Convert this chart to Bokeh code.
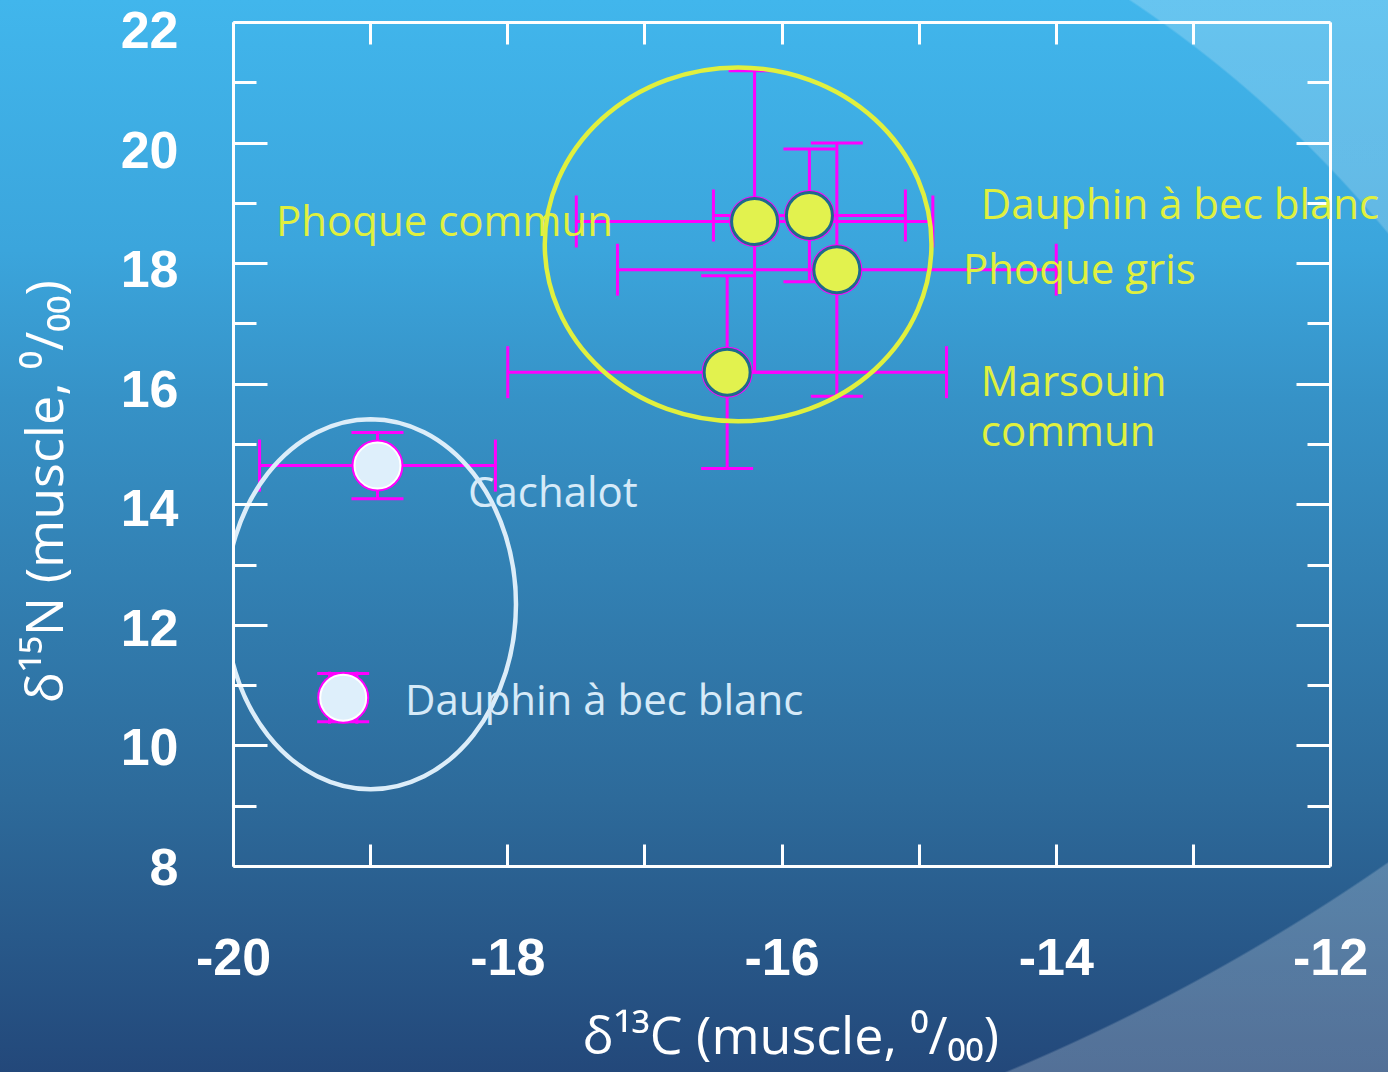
from bokeh.plotting import figure
from bokeh.models import (ColumnDataSource, Whisker, TeeHead, LinearAxis,
                          FixedTicker, Range1d, PrintfTickFormatter, LabelSet)
from bokeh.embed import file_html
from bokeh.resources import INLINE
from bokeh.core.properties import value

# --- coastal species (yellow group) ---
names_coast = ["Phoque commun", "Dauphin à bec blanc", "Phoque gris", "Marsouin\ncommun"]
d13c_coast = [-16.2, -15.8, -15.6, -16.4]
d13c_sd_coast = [1.3, 0.7, 1.6, 1.6]
d15n_coast = [18.7, 18.8, 17.9, 16.2]
d15n_sd_coast = [2.5, 1.1, 2.1, 1.6]
# label anchor points for the coastal names
lab_x_coast = [-19.69, -14.55, -14.68, -14.55]
lab_y_coast = [18.73, 19.01, 17.94, 15.67]

# --- oceanic species (pale group) ---
names_ocean = ["Cachalot", "Dauphin à bec blanc"]
d13c_ocean = [-18.95, -19.2]
d13c_sd_ocean = [0.86, 0.1]
d15n_ocean = [14.65, 10.8]
d15n_sd_ocean = [0.55, 0.4]
lab_x_ocean = [-18.29, -18.75]
lab_y_ocean = [14.24, 10.79]

# group envelopes (centre, full width, full height)
env_x = [-16.32, -19.0]
env_y = [18.32, 12.35]
env_w = [2.82, 2.12]
env_h = [5.87, 6.14]

x_lim = (-20, -12)
y_lim = (8, 22)
x_ticks = [-20, -18, -16, -14, -12]
x_minor = [-19, -17, -15, -13]
y_ticks = [8, 10, 12, 14, 16, 18, 20, 22]
y_minor = [9, 11, 13, 15, 17, 19, 21]

YELLOW = "#e0f03e"
PALE = "#dcedf9"
MAGENTA = "#ff00ff"
WHITE = "#ffffff"
NBSP = "\u00a0"

W, H = 1388, 1072
LEFT, RIGHT_BOX, TOP, BOTTOM = 233, 58, 22, 206


def err_source(xs, xsd, ys, ysd):
    return ColumnDataSource(dict(
        x=xs, y=ys,
        xlo=[a - b for a, b in zip(xs, xsd)], xhi=[a + b for a, b in zip(xs, xsd)],
        ylo=[a - b for a, b in zip(ys, ysd)], yhi=[a + b for a, b in zip(ys, ysd)],
    ))


src_coast = err_source(d13c_coast, d13c_sd_coast, d15n_coast, d15n_sd_coast)
src_ocean = err_source(d13c_ocean, d13c_sd_ocean, d15n_ocean, d15n_sd_ocean)
lab_coast = ColumnDataSource(dict(x=lab_x_coast, y=lab_y_coast, name=names_coast))
lab_ocean = ColumnDataSource(dict(x=lab_x_ocean, y=lab_y_ocean, name=names_ocean))

# the drawing area runs to the right edge so that long names are not cut;
# the boxed axes stop at x_lim
box_w = W - LEFT - RIGHT_BOX
x_end = x_lim[1] + RIGHT_BOX * (x_lim[1] - x_lim[0]) / box_w

p = figure(width=W, height=H,
           x_range=Range1d(x_lim[0], x_end), y_range=Range1d(*y_lim),
           output_backend="svg", toolbar_location=None,
           min_border_left=LEFT, min_border_right=0,
           min_border_top=TOP, min_border_bottom=BOTTOM)

# the upper tick numbers on the left sit a little below their ticks
p.extra_y_ranges = {"ylab": Range1d(y_lim[0], y_lim[1] + 0.133)}

p.background_fill_color = None
p.border_fill_color = None
p.outline_line_color = None
p.xgrid.visible = False
p.ygrid.visible = False

# slide-style backdrop: vertical blue gradient plus two pale swooshes
p.styles = {
    "background": (
        "radial-gradient(circle 1196px at 466px 995px, rgba(255,255,255,0) 1195px, rgba(255,255,255,0.2) 1197px),"
        "radial-gradient(circle 2066px at 209px -834px, rgba(255,255,255,0) 2065px, rgba(255,255,255,0.22) 2067px),"
        "linear-gradient(to bottom, #41b6ec 0px, #3ba5dc 250px, #3692c7 400px, #2d6a9a 800px, #23487a 1072px)"
    )
}


def style_axis(ax, ticks, minor, major_in, minor_in, show_labels, show_lines=True):
    ax.ticker = FixedTicker(ticks=ticks, minor_ticks=minor)
    ax.formatter = PrintfTickFormatter(format="%d")
    if show_lines:
        ax.axis_line_color = WHITE
        ax.axis_line_width = 3
        ax.major_tick_line_color = WHITE
        ax.major_tick_line_width = 3
        ax.minor_tick_line_color = WHITE
        ax.minor_tick_line_width = 3
    else:
        ax.axis_line_color = None
        ax.major_tick_line_color = None
        ax.minor_tick_line_color = None
    ax.major_tick_in = major_in
    ax.major_tick_out = 0
    ax.minor_tick_in = minor_in
    ax.minor_tick_out = 0
    ax.major_label_text_color = WHITE
    ax.major_label_text_font = "Liberation Sans"
    ax.major_label_text_font_style = "bold"
    ax.major_label_text_font_size = "52px"
    if not show_labels:
        ax.major_label_overrides = {t: "" for t in ticks}
        ax.major_label_standoff = 0


def style_title(ax, text, standoff):
    ax.axis_label = text
    ax.axis_label_text_color = WHITE
    ax.axis_label_text_font = "Open Sans"
    ax.axis_label_text_font_style = "normal"
    ax.axis_label_text_font_size = "52px"
    ax.axis_label_standoff = standoff


xb = p.xaxis[0]
style_axis(xb, x_ticks, x_minor, 22, 22, True)
xb.bounds = x_lim
xb.major_label_standoff = 72
# title sits slightly left of the drawing-area centre
style_title(xb, "δ¹³C (muscle, ⁰/₀₀)" + NBSP * 3, 20)

# left frame edge: ticks only
yl = p.yaxis[0]
style_axis(yl, y_ticks, y_minor, 34, 23, False)

# left tick numbers and title (title runs a little below the frame centre)
ynum = LinearAxis(y_range_name="ylab")
style_axis(ynum, y_ticks, y_minor, 0, 0, True, show_lines=False)
ynum.major_label_standoff = 55
style_title(ynum, "δ¹⁵N (muscle, ⁰/₀₀)" + NBSP * 7, 40)
p.add_layout(ynum, "left")

top = LinearAxis()
style_axis(top, x_ticks, x_minor, 22, 22, False)
top.bounds = x_lim
p.add_layout(top, "above")

right = LinearAxis(fixed_location=x_lim[1])
style_axis(right, y_ticks, y_minor, 34, 23, False)
p.add_layout(right, "right")

# error bars
for src in (src_coast, src_ocean):
    for dim, base, lo, hi in (("height", "x", "ylo", "yhi"), ("width", "y", "xlo", "xhi")):
        w = Whisker(base=base, lower=lo, upper=hi, source=src, dimension=dim,
                    line_color=MAGENTA, line_width=3,
                    upper_head=TeeHead(size=52, line_color=MAGENTA, line_width=3),
                    lower_head=TeeHead(size=52, line_color=MAGENTA, line_width=3))
        p.add_layout(w)

# group envelopes
p.ellipse(x=env_x[:1], y=env_y[:1], width=env_w[:1], height=env_h[:1],
          fill_color=None, line_color=YELLOW, line_width=4.5)
p.ellipse(x=env_x[1:], y=env_y[1:], width=env_w[1:], height=env_h[1:],
          fill_color=None, line_color=PALE, line_width=4.5)

# markers
p.scatter("x", "y", source=src_coast, size=51, fill_color=MAGENTA, line_color=None)
p.scatter("x", "y", source=src_coast, size=46, fill_color="#e2f24e",
          line_color="#1d6b8c", line_width=3)
p.scatter("x", "y", source=src_ocean, size=52, fill_color=MAGENTA, line_color=None)
p.scatter("x", "y", source=src_ocean, size=46, fill_color="#deeffb",
          line_color=WHITE, line_width=2)

# species names
p.add_layout(LabelSet(x="x", y="y", text="name", source=lab_coast,
                      text_font=value("Open Sans"), text_font_size="42px",
                      text_color=YELLOW, text_align="left", text_baseline="middle",
                      text_line_height=0.88))
p.add_layout(LabelSet(x="x", y="y", text="name", source=lab_ocean,
                      text_font=value("Open Sans"), text_font_size="42px",
                      text_color="#d6eaf8", text_align="left", text_baseline="middle"))

open("out.html", "w").write(file_html(p, INLINE))
